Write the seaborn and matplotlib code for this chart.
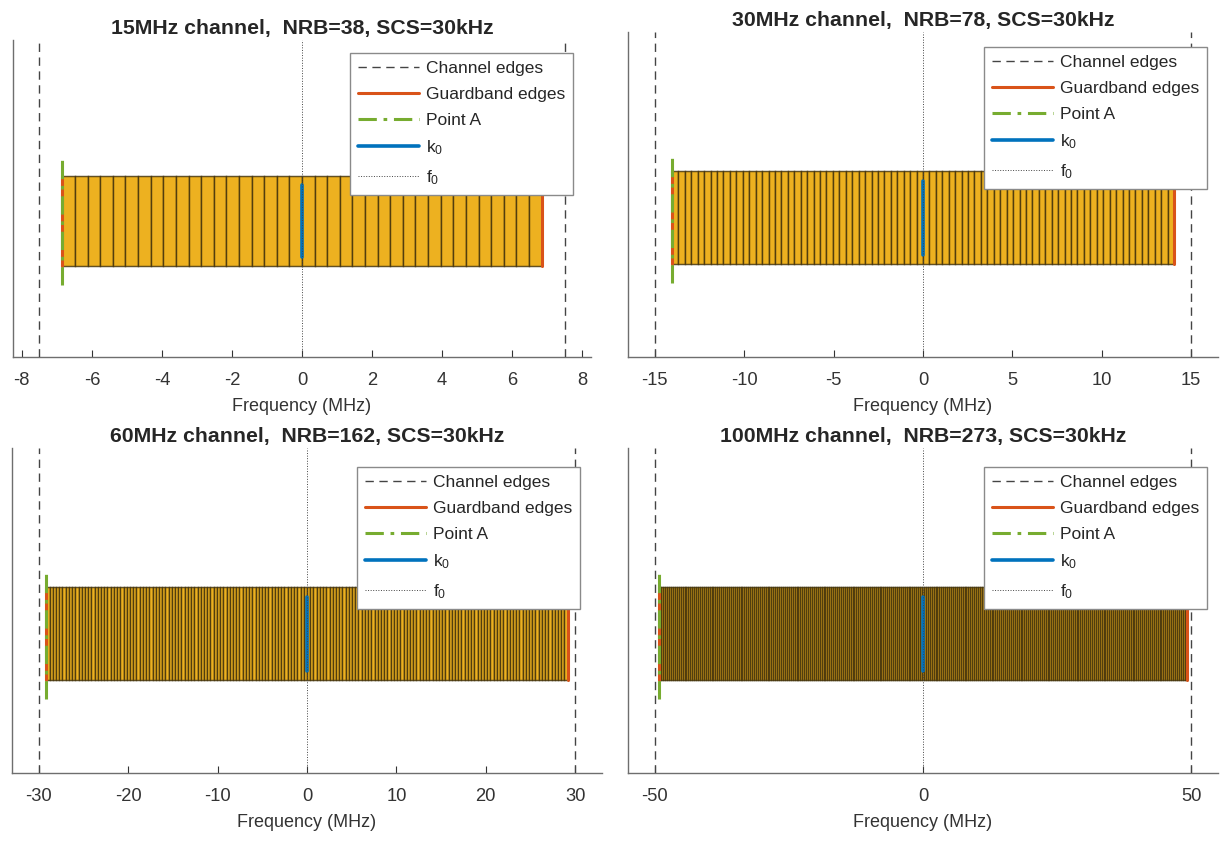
import matplotlib
matplotlib.use('Agg')
import matplotlib.pyplot as plt
import numpy as np
import seaborn as sns

# Carrier setups shown in the four panels
bandwidth_mhz = [15, 30, 60, 100]
nrb = [38, 78, 162, 273]
guard_khz = [645, 945, 825, 845]
scs_khz = 30
tick_sets = [
    [-8, -6, -4, -2, 0, 2, 4, 6, 8],
    [-15, -10, -5, 0, 5, 10, 15],
    [-30, -20, -10, 0, 10, 20, 30],
    [-50, 0, 50],
]

sns.set_style('white')
plt.rcParams['font.family'] = ['Liberation Sans', 'DejaVu Sans']
plt.rcParams['mathtext.default'] = 'regular'
plt.rcParams['axes.unicode_minus'] = False
plt.rcParams['text.color'] = '#262626'
plt.rcParams['axes.labelcolor'] = '#333333'
plt.rcParams['xtick.color'] = '#333333'

c_rb = '#EDB120'
c_guard = '#D95319'
c_pointa = '#77AC30'
c_k0 = '#0072BD'

fig = plt.figure(figsize=(12.21, 8.41), dpi=100)
W, H = 1221, 841
# axes boxes in pixels: left, top, right, bottom
boxes = [(13, 40, 591, 357), (628, 32, 1218, 357),
         (12, 448, 602, 773), (628, 448, 1218, 773)]
legend_corner = [(573, 53), (1207, 47), (580, 467), (1207, 467)]

for i in range(4):
    l, t, r, b = boxes[i]
    ax = fig.add_axes([l / W, (H - b) / H, (r - l) / W, (b - t) / H])

    bw = bandwidth_mhz[i]
    rb_w = 12 * scs_khz / 1000
    edges = -nrb[i] * rb_w / 2 + np.arange(nrb[i]) * rb_w
    gb = bw / 2 - guard_khz[i] / 1000
    point_a = edges[0]

    ax.bar(edges, 1, width=rb_w, bottom=0, align='edge', color=c_rb,
           edgecolor=(0.24, 0.18, 0.04, 0.8), linewidth=1.05, zorder=1)

    ch = ax.axvline(-bw / 2, color='#444444', ls=(0, (6, 4)), lw=1.0, zorder=3)
    ax.axvline(bw / 2, color='#444444', ls=(0, (6, 4)), lw=1.0, zorder=3)
    gl, = ax.plot([-gb, -gb], [0, 1], color=c_guard, lw=2.2, zorder=3)
    ax.plot([gb, gb], [0, 1], color=c_guard, lw=2.2, zorder=3)
    pa, = ax.plot([point_a, point_a], [-0.2, 1.2], color=c_pointa, lw=2.2,
                  ls=(0, (6, 2.2, 1.2, 2.2)), zorder=4)
    k0, = ax.plot([0, 0], [0.1, 0.9], color=c_k0, lw=2.6, zorder=4)
    f0 = ax.axvline(0, color='#444444', ls=':', lw=0.7, zorder=5)

    ax.set_xlim(-1.1 * bw / 2, 1.1 * bw / 2)
    ax.set_ylim(-1, 2.5)
    ax.set_yticks([])
    ax.set_xticks(tick_sets[i])
    ax.tick_params(axis='x', direction='in', length=5, width=0.8,
                   bottom=True, pad=11, labelsize=13.2)
    ax.set_xlabel('Frequency (MHz)', fontsize=13, labelpad=6)
    ax.set_title(f'{bw}MHz channel,  NRB={nrb[i]}, SCS={scs_khz}kHz',
                 fontsize=15.3, fontweight='bold', pad=4)
    sns.despine(ax=ax)
    for s in ['left', 'bottom']:
        ax.spines[s].set_color('#6e6e6e')
        ax.spines[s].set_linewidth(1.0)

    lx, ly = legend_corner[i]
    leg = ax.legend([ch, gl, pa, k0, f0],
                    ['Channel edges', 'Guardband edges', 'Point A', 'k$_0$', 'f$_0$'],
                    loc='upper right', bbox_to_anchor=(lx / W, 1 - ly / H),
                    bbox_transform=fig.transFigure, fontsize=12.5,
                    frameon=True, fancybox=False, framealpha=1,
                    edgecolor='#8a8a8a', handlelength=3.5, handletextpad=0.4,
                    labelspacing=0.62, borderpad=0.45, borderaxespad=0)
    leg.get_frame().set_linewidth(1.0)
    leg.set_zorder(10)

fig.savefig('out.png', dpi=100)
